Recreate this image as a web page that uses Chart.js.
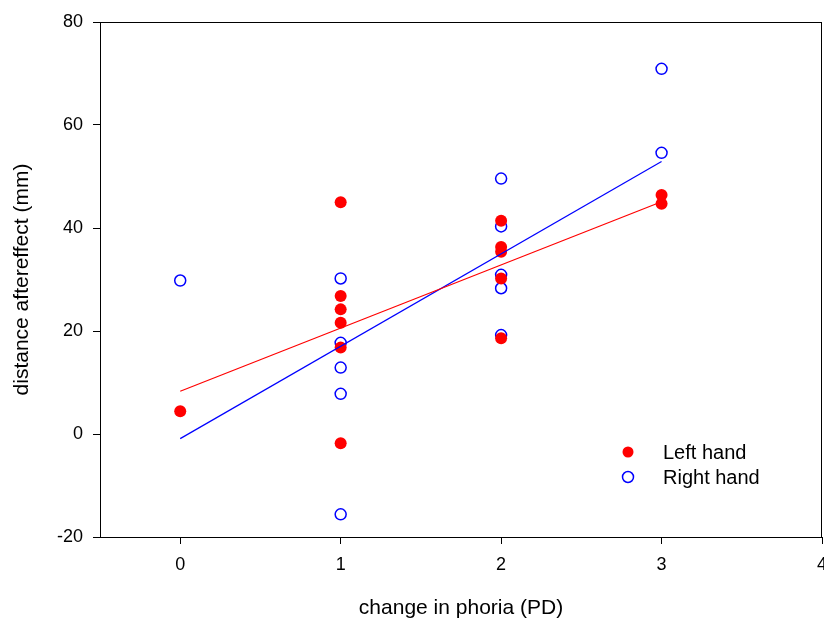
<!DOCTYPE html>
<html>
<head>
<meta charset="utf-8">
<script src="https://cdn.jsdelivr.net/npm/chart.js@4.4.1/dist/chart.umd.min.js"></script>
<style>
  html, body { margin: 0; padding: 0; background: #fff; overflow: hidden; }
  #wrap { width: 824px; height: 621px; overflow: hidden; }
</style>
</head>
<body>
<div id="wrap"><canvas id="myChart" width="829" height="621"></canvas></div>
<script>
// points
const leftX = [0, 1, 1, 1, 1, 1, 1, 2, 2, 2, 2, 2, 3, 3];
const leftY = [4.4, 45.0, 26.8, 24.2, 21.6, 16.8, -1.8, 41.4, 36.3, 35.4, 30.2, 18.6, 46.4, 44.7];

const rightX = [0, 1, 1, 1, 1, 1, 2, 2, 2, 2, 2, 3, 3];
const rightY = [29.8, 30.2, 17.7, 12.9, 7.8, -15.6, 49.6, 40.3, 30.9, 28.3, 19.2, 70.9, 54.6];

// regression line end points
const fitX = [0, 3];
const leftFit = [8.3, 45.1];
const rightFit = [-0.9, 52.9];

const xTicks = [0, 1, 2, 3, 4];
const legendLabels = ['Left hand', 'Right hand'];

const pts = (xs, ys) => xs.map((x, i) => ({x: x, y: ys[i]}));

const font = 'Arial, "Liberation Sans", sans-serif';

const frame = {
  id: 'frame',
  afterDraw(chart) {
    const {ctx, chartArea: a} = chart;
    ctx.save();
    ctx.strokeStyle = '#000';
    ctx.lineWidth = 1;
    ctx.strokeRect(a.left + 0.5, a.top + 0.5, a.right - a.left - 1, a.bottom - a.top);
    // legend inside the plot
    const items = chart.data.datasets.filter(d => d.type === 'scatter');
    items.forEach((d, i) => {
      const y = 452 + i * 25;
      ctx.beginPath();
      ctx.arc(628, y, 5.5, 0, Math.PI * 2);
      if (d.pointBackgroundColor !== 'transparent') {
        ctx.fillStyle = d.pointBackgroundColor;
        ctx.fill();
      } else {
        ctx.strokeStyle = d.pointBorderColor;
        ctx.lineWidth = 1.5;
        ctx.stroke();
      }
      ctx.fillStyle = '#000';
      ctx.font = '20px ' + font;
      ctx.textBaseline = 'middle';
      ctx.fillText(d.label, 663, y + 1);
    });
    ctx.restore();
  }
};

const ctx = document.getElementById('myChart');
new Chart(ctx, {
  type: 'scatter',
  data: {
    datasets: [
      {
        type: 'line',
        label: 'left fit',
        data: pts(fitX, leftFit),
        borderColor: '#ff0000',
        borderWidth: 1.2,
        pointRadius: 0,
        fill: false
      },
      {
        type: 'line',
        label: 'right fit',
        data: pts(fitX, rightFit),
        borderColor: '#0000ff',
        borderWidth: 1.2,
        pointRadius: 0,
        fill: false
      },
      {
        type: 'scatter',
        label: legendLabels[0],
        data: pts(leftX, leftY),
        pointRadius: 6,
        pointBackgroundColor: '#ff0000',
        pointBorderColor: '#ff0000',
        pointBorderWidth: 0
      },
      {
        type: 'scatter',
        label: legendLabels[1],
        data: pts(rightX, rightY),
        pointRadius: 5.5,
        pointBackgroundColor: 'transparent',
        pointBorderColor: '#0000ff',
        pointBorderWidth: 1.5
      }
    ]
  },
  options: {
    responsive: false,
    animation: false,
    layout: { padding: { top: 22, right: 0, left: 0, bottom: 0 } },
    plugins: {
      legend: { display: false },
      tooltip: { enabled: false }
    },
    scales: {
      x: {
        type: 'linear',
        min: -0.5,
        max: 4,
        afterBuildTicks: scale => { scale.ticks = xTicks.map(v => ({value: v})); },
        afterFit: scale => { scale.height = 84; scale.paddingRight = 0; scale.paddingLeft = 0; },
        grid: { drawOnChartArea: false, tickLength: 7, color: '#000' },
        border: { color: '#000', width: 1 },
        ticks: { color: '#000', font: { size: 18, family: font }, padding: 10 },
        title: { display: true, text: 'change in phoria (PD)', color: '#000', font: { size: 21, family: font }, padding: { top: 0, bottom: 0 } }
      },
      y: {
        min: -20,
        max: 80,
        afterFit: scale => { scale.width = 100; },
        grid: { drawOnChartArea: false, tickLength: 7, color: '#000' },
        border: { color: '#000', width: 1 },
        ticks: { color: '#000', stepSize: 20, font: { size: 18, family: font }, padding: 10 },
        title: { display: true, text: 'distance aftereffect (mm)', color: '#000', font: { size: 21, family: font }, padding: { top: 10, bottom: 0 } }
      }
    }
  },
  plugins: [frame]
});
</script>
</body>
</html>
